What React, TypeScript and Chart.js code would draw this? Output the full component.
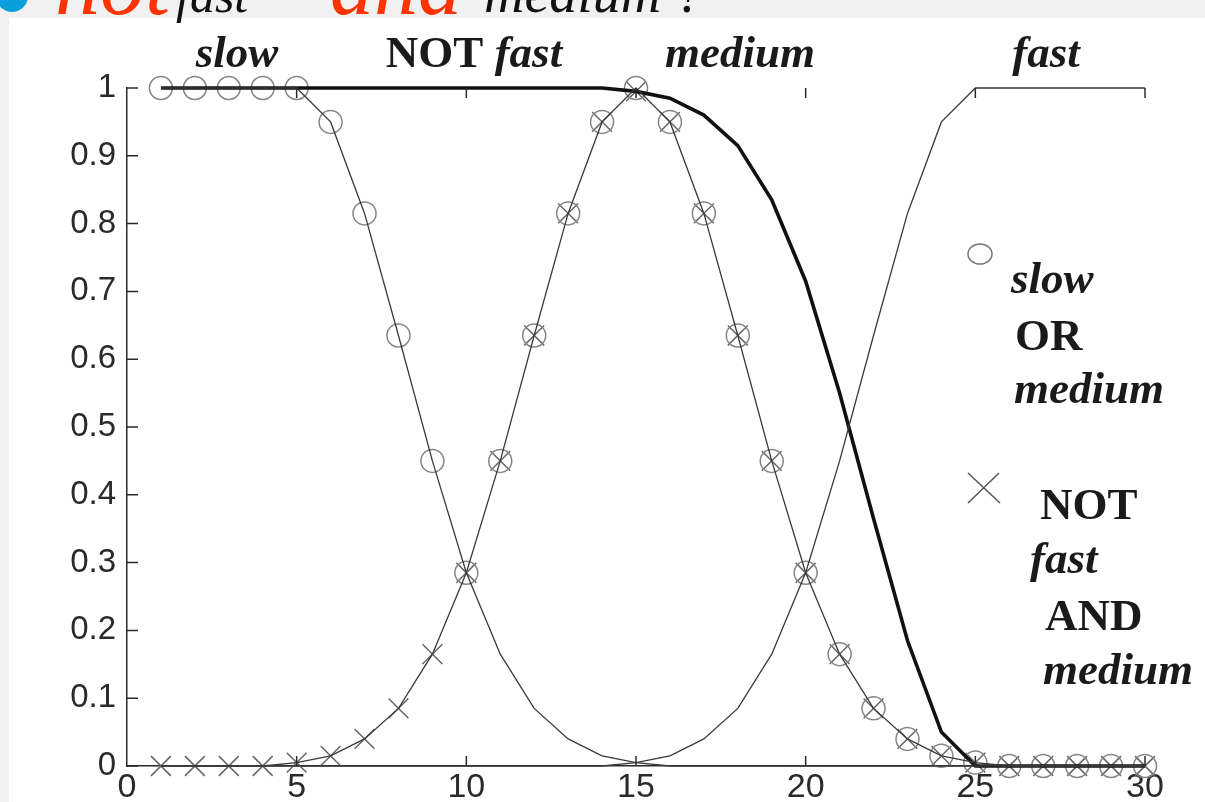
import React, { useEffect, useRef } from "react";
import { Chart, registerables } from "chart.js";

Chart.register(...registerables);

// x positions of the samples
const xValues = [1, 2, 3, 4, 5, 6, 7, 8, 9, 10, 11, 12, 13, 14, 15, 16, 17, 18, 19, 20, 21, 22, 23, 24, 25, 26, 27, 28, 29, 30];

// membership functions
const slow = [1, 1, 1, 1, 1, 0.95, 0.815, 0.635, 0.45, 0.285, 0.165, 0.085, 0.04, 0.015, 0.005, 0, 0, 0, 0, 0, 0, 0, 0, 0, 0, 0, 0, 0, 0, 0];
const medium = [0, 0, 0, 0, 0.005, 0.015, 0.04, 0.085, 0.165, 0.285, 0.45, 0.635, 0.815, 0.95, 1, 0.95, 0.815, 0.635, 0.45, 0.285, 0.165, 0.085, 0.04, 0.015, 0.005, 0, 0, 0, 0, 0];
const fast = [0, 0, 0, 0, 0, 0, 0, 0, 0, 0, 0, 0, 0, 0, 0.005, 0.015, 0.04, 0.085, 0.165, 0.285, 0.45, 0.635, 0.815, 0.95, 1, 1, 1, 1, 1, 1];
const notFast = [1, 1, 1, 1, 1, 1, 1, 1, 1, 1, 1, 1, 1, 1, 0.995, 0.985, 0.96, 0.915, 0.835, 0.715, 0.55, 0.365, 0.185, 0.05, 0, 0, 0, 0, 0, 0];

// combined sets (markers)
const slowOrMedium = [1, 1, 1, 1, 1, 0.95, 0.815, 0.635, 0.45, 0.285, 0.45, 0.635, 0.815, 0.95, 1, 0.95, 0.815, 0.635, 0.45, 0.285, 0.165, 0.085, 0.04, 0.015, 0.005, 0, 0, 0, 0, 0];
const notFastAndMedium = [0, 0, 0, 0, 0.005, 0.015, 0.04, 0.085, 0.165, 0.285, 0.45, 0.635, 0.815, 0.95, 0.995, 0.95, 0.815, 0.635, 0.45, 0.285, 0.165, 0.085, 0.04, 0.015, 0.005, 0, 0, 0, 0, 0];

// ticks
const xTicks = [0, 5, 10, 15, 20, 25, 30];
const yTicks = [0, 0.1, 0.2, 0.3, 0.4, 0.5, 0.6, 0.7, 0.8, 0.9, 1];
const topTicks = [5, 10, 15, 20, 25, 30];

// texts
const topLabels = ["slow", "NOT fast", "medium", "fast"];
const legendCircleLines = ["slow", "OR", "medium"];
const legendCrossLines = ["NOT", "fast", "AND", "medium"];
const titleParts = ["not", "fast", "and", "medium ?"];

const pts = (ys: number[]) => xValues.map((x, i) => ({ x, y: ys[i] }));

const SERIF = '"Liberation Serif", "Times New Roman", serif';
const SANS = '"Liberation Sans", Arial, sans-serif';

const decorPlugin = {
  id: "decor",
  beforeDraw(chart: any) {
    const { ctx, width, height } = chart;
    ctx.save();
    ctx.fillStyle = "#f1f1f1";
    ctx.fillRect(0, 0, width, height);
    ctx.fillStyle = "#ffffff";
    ctx.fillRect(9, 18, width - 9, height - 18);
    ctx.restore();
  },
  afterDraw(chart: any) {
    const { ctx } = chart;
    const xs = chart.scales.x;
    const ys = chart.scales.y;
    const area = chart.chartArea;
    ctx.save();

    // clipped title line at the very top
    ctx.fillStyle = "#0a9fdc";
    ctx.beginPath();
    ctx.arc(12, -4, 16, 0, Math.PI * 2);
    ctx.fill();
    ctx.textBaseline = "alphabetic";
    ctx.textAlign = "left";
    ctx.fillStyle = "#ff3300";
    ctx.font = `italic 90px ${SERIF}`;
    ctx.fillText(titleParts[0], 55, 14);
    ctx.fillStyle = "#111";
    ctx.font = `italic 50px ${SERIF}`;
    ctx.fillText(titleParts[1], 176, 12);
    ctx.fillStyle = "#ff3300";
    ctx.font = `italic 88px ${SERIF}`;
    ctx.fillText(titleParts[2], 330, 14);
    ctx.fillStyle = "#111";
    ctx.font = `italic 56px ${SERIF}`;
    ctx.fillText(titleParts[3], 484, 12);

    // axis ticks (inward) and top ticks
    ctx.strokeStyle = "#2b2b2b";
    ctx.lineWidth = 1.5;
    ctx.beginPath();
    for (const v of yTicks) {
      const py = ys.getPixelForValue(v);
      ctx.moveTo(area.left, py);
      ctx.lineTo(area.left + 11, py);
    }
    for (const v of xTicks) {
      if (v === 0) continue;
      const px = xs.getPixelForValue(v);
      ctx.moveTo(px, area.bottom);
      ctx.lineTo(px, area.bottom - 10);
    }
    for (const v of topTicks) {
      const px = xs.getPixelForValue(v);
      ctx.moveTo(px, area.top);
      ctx.lineTo(px, area.top + 10);
    }
    ctx.stroke();

    // labels above the plot
    ctx.fillStyle = "#1a1a1a";
    ctx.textBaseline = "alphabetic";
    const bi = `italic bold 45px ${SERIF}`;
    const b = `bold 45px ${SERIF}`;
    const drawCentered = (txt: string, cx: number, y: number, font: string) => {
      ctx.font = font;
      ctx.textAlign = "center";
      ctx.fillText(txt, cx, y);
    };
    drawCentered(topLabels[0], 237, 67, bi);
    // NOT fast
    {
      const [a, c] = topLabels[1].split(" ");
      ctx.font = b;
      const wa = ctx.measureText(a + " ").width;
      ctx.font = bi;
      const wc = ctx.measureText(c).width;
      const start = 474 - (wa + wc) / 2;
      ctx.textAlign = "left";
      ctx.font = b;
      ctx.fillText(a + " ", start, 67);
      ctx.font = bi;
      ctx.fillText(c, start + wa, 67);
    }
    drawCentered(topLabels[2], 740, 67, bi);
    drawCentered(topLabels[3], 1046, 67, bi);

    // legend markers
    ctx.strokeStyle = "#7a7a7a";
    ctx.lineWidth = 1.5;
    ctx.beginPath();
    ctx.ellipse(980, 254, 12, 10, 0, 0, Math.PI * 2);
    ctx.stroke();
    ctx.strokeStyle = "#555";
    ctx.beginPath();
    ctx.moveTo(968, 473);
    ctx.lineTo(1000, 503);
    ctx.moveTo(999, 473);
    ctx.lineTo(968, 503);
    ctx.stroke();

    // legend texts
    ctx.textAlign = "left";
    ctx.fillStyle = "#1a1a1a";
    ctx.font = bi;
    ctx.fillText(legendCircleLines[0], 1011, 293);
    ctx.font = b;
    ctx.fillText(legendCircleLines[1], 1015, 350);
    ctx.font = bi;
    ctx.fillText(legendCircleLines[2], 1014, 403);
    ctx.font = b;
    ctx.fillText(legendCrossLines[0], 1040, 519);
    ctx.font = bi;
    ctx.fillText(legendCrossLines[1], 1030, 573);
    ctx.font = b;
    ctx.fillText(legendCrossLines[2], 1045, 630);
    ctx.font = bi;
    ctx.fillText(legendCrossLines[3], 1043, 684);

    ctx.restore();
  },
};

export default function App() {
  const canvasRef = useRef<HTMLCanvasElement | null>(null);

  useEffect(() => {
    document.body.style.margin = "0";
    const canvas = canvasRef.current;
    if (!canvas) return;
    const thin = { borderColor: "#3a3a3a", borderWidth: 1.3, pointRadius: 0, fill: false, tension: 0, clip: false as any };
    const chart = new Chart(canvas, {
      type: "line",
      data: {
        datasets: [
          { label: "slow", data: pts(slow), ...thin },
          { label: "medium", data: pts(medium), ...thin },
          { label: "fast", data: pts(fast), ...thin },
          { label: "NOT fast", data: pts(notFast), borderColor: "#111", borderWidth: 3.6, pointRadius: 0, fill: false, clip: false as any },
          {
            label: "slow OR medium",
            data: pts(slowOrMedium),
            showLine: false,
            pointStyle: "circle",
            pointRadius: 11.5,
            pointBorderColor: "#858585",
            pointBackgroundColor: "rgba(0,0,0,0)",
            pointBorderWidth: 1.5,
            clip: false as any,
          },
          {
            label: "NOT fast AND medium",
            data: pts(notFastAndMedium),
            showLine: false,
            pointStyle: "crossRot",
            pointRadius: 14,
            pointBorderColor: "#666",
            pointBackgroundColor: "rgba(0,0,0,0)",
            pointBorderWidth: 1.5,
            clip: false as any,
          },
        ],
      },
      options: {
        responsive: false,
        animation: false,
        events: [],
        layout: { padding: { left: 0, right: 60, top: 88, bottom: 0 } },
        plugins: { legend: { display: false }, tooltip: { enabled: false }, title: { display: false } },
        scales: {
          x: {
            type: "linear",
            min: 0,
            max: 30,
            afterBuildTicks: (s: any) => {
              s.ticks = xTicks.map((v) => ({ value: v }));
            },
            afterFit: (s: any) => {
              s.height = 36;
            },
            grid: { display: false, drawTicks: false },
            border: { display: true, color: "#2b2b2b", width: 1.5 },
            ticks: {
              padding: 1,
              color: "#2a2a2a",
              font: { family: SANS, size: 34 },
              callback: (v: any) => String(v),
              maxRotation: 0,
              autoSkip: false,
            },
          },
          y: {
            type: "linear",
            min: 0,
            max: 1,
            afterBuildTicks: (s: any) => {
              s.ticks = yTicks.map((v) => ({ value: v }));
            },
            afterFit: (s: any) => {
              s.width = 127;
            },
            grid: { display: false, drawTicks: false },
            border: { display: true, color: "#2b2b2b", width: 1.5 },
            ticks: {
              padding: 11,
              color: "#2a2a2a",
              font: { family: SANS, size: 33 },
              callback: (v: any) => String(v),
              autoSkip: false,
            },
          },
        },
      },
      plugins: [decorPlugin],
    });
    return () => chart.destroy();
  }, []);

  return (
    <div style={{ position: "relative", width: 1205, height: 802, overflow: "hidden" }}>
      <canvas ref={canvasRef} width={1205} height={802} style={{ display: "block" }} />
    </div>
  );
}
